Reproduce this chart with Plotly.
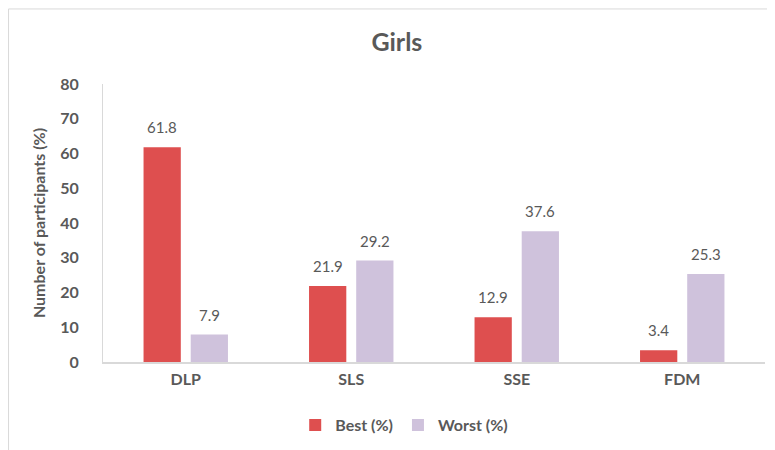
import plotly.graph_objects as go

categories = ["DLP", "SLS", "SSE", "FDM"]
best = [61.8, 21.9, 12.9, 3.4]
worst = [7.9, 29.2, 37.6, 25.3]
y_ticks = [0, 10, 20, 30, 40, 50, 60, 70, 80]

grey = "#595959"
font_family = "Lato, 'Open Sans', sans-serif"

fig = go.Figure()
fig.add_trace(go.Bar(
    x=categories, y=best, name="Best (%)",
    marker=dict(color="#DE4F4F", line=dict(width=0)),
))
fig.add_trace(go.Bar(
    x=categories, y=worst, name="Worst (%)",
    marker=dict(color="#CFC2DC", line=dict(width=0)),
))

# value labels above each bar, a bit higher than plotly's default
for vals, shift in [(best, -23.5), (worst, 23.5)]:
    for c, v in zip(categories, vals):
        fig.add_annotation(x=c, y=v, text=f"{v:.1f}", showarrow=False,
                           xshift=shift, yshift=20,
                           font=dict(size=15, color=grey))

# page has an 8px body margin, so the figure is a bit smaller than the window
fig.update_layout(
    width=767, height=442, autosize=False,
    margin=dict(l=95, r=10, t=76, b=88, autoexpand=False),
    paper_bgcolor="white", plot_bgcolor="white",
    font=dict(family=font_family, color=grey),
    title=dict(text="<b>Girls</b>", x=0.507, xanchor="center",
               y=0.923, yanchor="middle",
               font=dict(size=25, color=grey)),
    barmode="group", bargap=0.43, bargroupgap=0.21,
    legend=dict(orientation="h", x=0.455, xanchor="center",
                y=-0.227, yanchor="middle",
                font=dict(size=16, color=grey, weight="bold"),
                traceorder="normal"),
    shapes=[dict(type="rect", xref="paper", yref="paper",
                 x0=-0.1427, x1=1.05, y0=-0.4, y1=1.27,
                 line=dict(color="#D9D9D9", width=1), layer="below")],
)

fig.update_xaxes(
    showline=True, linecolor="#D9D9D9", linewidth=2,
    showgrid=False, ticks="", ticklabelstandoff=2,
    tickfont=dict(size=16, color=grey, family=font_family, weight="bold"),
)
fig.update_yaxes(
    range=[0, 80], tickvals=y_ticks,
    showline=True, linecolor="#D9D9D9", linewidth=1,
    showgrid=False, zeroline=False, ticks="", ticklabelstandoff=20,
    tickfont=dict(size=16, color=grey, family=font_family, weight="bold"),
    title=dict(text="Number of participants (%)", standoff=10,
               font=dict(size=16, color=grey, weight="bold")),
)

fig.write_html("out.html")
